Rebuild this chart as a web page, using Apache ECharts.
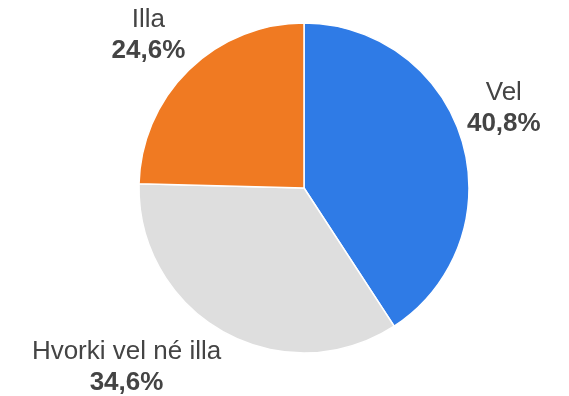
<!DOCTYPE html>
<html>
<head>
<meta charset="utf-8">
<style>
  html, body { margin: 0; padding: 0; background: #ffffff; }
  #chart { width: 569px; height: 396px; }
</style>
<script src="https://cdn.jsdelivr.net/npm/echarts@6/dist/echarts.min.js"></script>
</head>
<body>
<div id="chart"></div>
<script>
// Answer categories and their shares (percent)
const categories = ['Vel', 'Hvorki vel né illa', 'Illa'];
const shares = [40.8, 34.6, 24.6];
const sliceColors = ['#2f7be6', '#dedede', '#f07a22'];

// Pie geometry
const CX = 304, CY = 188, RADIUS = 165, LABEL_R = 170;
const START_ANGLE = 90; // degrees, slices run clockwise from the top

// Label typography
const FONT_FAMILY = '"Liberation Sans", Arial, sans-serif';
const FONT_SIZE = 26, LINE_H = 31;

const fmtPct = v => v.toFixed(1).replace('.', ',') + '%';

// Measure label blocks so each one can be anchored by its corner nearest the pie
const measureCtx = document.createElement('canvas').getContext('2d');
function textWidth(str, weight) {
  measureCtx.font = weight + ' ' + FONT_SIZE + 'px ' + FONT_FAMILY;
  return measureCtx.measureText(str).width;
}

const total = shares.reduce((a, b) => a + b, 0);
let acc = 0;
const labelCenters = shares.map((v, i) => {
  const midFrac = (acc + v / 2) / total;
  acc += v;
  const theta = midFrac * 2 * Math.PI; // clockwise from top
  const dx = Math.sin(theta), dy = -Math.cos(theta);
  const w = Math.max(textWidth(categories[i], 'normal'), textWidth(fmtPct(v), 'bold'));
  const h = 2 * LINE_H;
  const ax = CX + LABEL_R * dx, ay = CY + LABEL_R * dy;
  return {
    x: ax + (dx >= 0 ? w / 2 : -w / 2),
    y: ay + (dy >= 0 ? h / 2 : -h / 2),
    align: 'center',
    verticalAlign: 'middle'
  };
});

const chart = echarts.init(document.getElementById('chart'), null, { renderer: 'canvas' });
chart.setOption({
  animation: false,
  backgroundColor: '#ffffff',
  series: [{
    type: 'pie',
    center: [CX, CY],
    radius: RADIUS,
    startAngle: START_ANGLE,
    clockwise: true,
    data: categories.map((name, i) => ({
      name, value: shares[i], itemStyle: { color: sliceColors[i] }
    })),
    itemStyle: { borderColor: '#ffffff', borderWidth: 1.5 },
    emphasis: { disabled: true },
    labelLine: { show: false },
    label: {
      show: true,
      position: 'outside',
      overflow: 'none',
      width: 260,
      formatter: p => '{n|' + p.name + '}\n{p|' + fmtPct(p.value) + '}',
      rich: {
        n: { align: 'center', fontFamily: FONT_FAMILY, fontSize: FONT_SIZE, color: '#444444', lineHeight: LINE_H },
        p: { align: 'center', fontFamily: FONT_FAMILY, fontSize: FONT_SIZE, fontWeight: 'bold', color: '#444444', lineHeight: LINE_H }
      }
    },
    labelLayout: params => labelCenters[params.dataIndex]
  }]
});
</script>
</body>
</html>
